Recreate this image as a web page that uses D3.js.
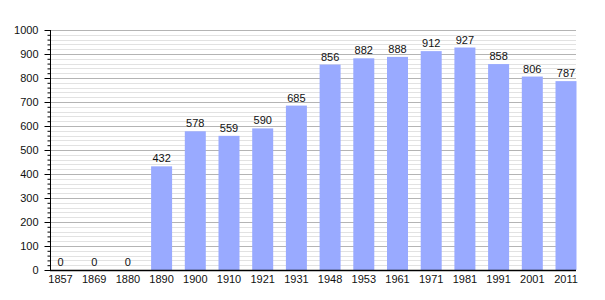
<!DOCTYPE html>
<html>
<head>
<meta charset="utf-8">
<script src="https://cdn.jsdelivr.net/npm/d3@7"></script>
<style>
  body { margin: 0; background: #fff; }
  text { font-family: "Liberation Sans", Arial, sans-serif; }
</style>
</head>
<body>
<div id="chart"></div>
<script>
const years = ["1857", "1869", "1880", "1890", "1900", "1910", "1921", "1931",
               "1948", "1953", "1961", "1971", "1981", "1991", "2001", "2011"];
const population = [0, 0, 0, 432, 578, 559, 590, 685, 856, 882, 888, 912, 927, 858, 806, 787];
const yTicks = [0, 100, 200, 300, 400, 500, 600, 700, 800, 900, 1000];

const svg = d3.select("#chart")
  .append("svg")
  .attr("width", 605)
  .attr("height", 300);

const x = d3.scaleBand()
  .domain(years)
  .range([50, 576.5])
  .paddingInner(0.377)
  .paddingOuter(0)
  .align(0);

const y = d3.scaleLinear()
  .domain([0, 1000])
  .range([270, 30]);

// minor grid every 20
svg.selectAll(".minor")
  .data(d3.range(20, 1001, 20).filter(v => v % 100 !== 0))
  .enter()
  .append("line")
  .attr("x1", 50)
  .attr("x2", 576)
  .attr("y1", d => Math.round(y(d)) + 0.5)
  .attr("y2", d => Math.round(y(d)) + 0.5)
  .attr("stroke", "#e2e2e2");

// major grid every 100
svg.selectAll(".major")
  .data(yTicks.filter(v => v > 0))
  .enter()
  .append("line")
  .attr("x1", 50)
  .attr("x2", 576)
  .attr("y1", d => Math.round(y(d)) + 0.5)
  .attr("y2", d => Math.round(y(d)) + 0.5)
  .attr("stroke", "#b4b4b4");

// bars
svg.selectAll(".bar")
  .data(population)
  .enter()
  .append("rect")
  .attr("x", (d, i) => x(years[i]))
  .attr("y", d => y(d))
  .attr("width", x.bandwidth())
  .attr("height", d => y(0) - y(d))
  .attr("fill", "#99aaff");

// value labels
svg.selectAll(".val")
  .data(population)
  .enter()
  .append("text")
  .attr("x", (d, i) => x(years[i]) + x.bandwidth() / 2)
  .attr("y", d => y(d) - 4)
  .attr("text-anchor", "middle")
  .attr("font-size", 11)
  .attr("fill", "#111")
  .text(d => d);

// left axis with minor ticks
const minorAxis = d3.axisLeft(y)
  .tickValues(d3.range(0, 1001, 20))
  .tickSize(3)
  .tickFormat("");
svg.append("g")
  .attr("transform", "translate(50.5,0)")
  .call(minorAxis)
  .call(g => g.select(".domain").remove())
  .call(g => g.selectAll("line").attr("stroke", "#000"));

const yAxis = d3.axisLeft(y)
  .tickValues(yTicks)
  .tickSize(6)
  .tickPadding(6)
  .tickFormat(d3.format("d"));
svg.append("g")
  .attr("transform", "translate(50.5,0)")
  .call(yAxis)
  .call(g => g.select(".domain").remove())
  .call(g => g.selectAll("line").attr("stroke", "#000"))
  .call(g => g.selectAll("text")
    .attr("font-size", 11)
    .attr("fill", "#111")
    .style("font-family", "Liberation Sans, Arial, sans-serif"));

svg.append("line")
  .attr("x1", 50.5).attr("x2", 50.5)
  .attr("y1", y(1000)).attr("y2", y(0))
  .attr("stroke", "#000");

// bottom axis
const xAxis = d3.axisBottom(x)
  .tickSize(0)
  .tickPadding(5);
svg.append("g")
  .attr("transform", "translate(0,270.5)")
  .call(xAxis)
  .call(g => g.select(".domain").remove())
  .call(g => g.selectAll("text")
    .attr("font-size", 11)
    .attr("fill", "#111")
    .style("font-family", "Liberation Sans, Arial, sans-serif"));

svg.append("line")
  .attr("x1", 50).attr("x2", 576)
  .attr("y1", 270.5).attr("y2", 270.5)
  .attr("stroke", "#000")
  .attr("stroke-width", 1.5);
</script>
</body>
</html>
